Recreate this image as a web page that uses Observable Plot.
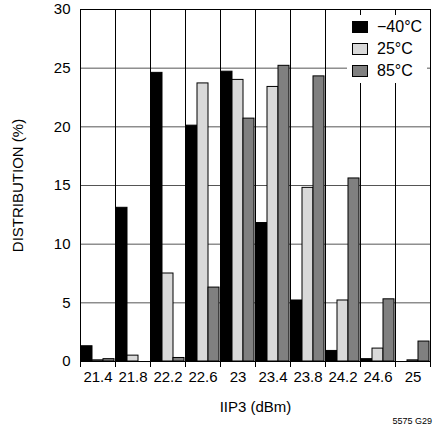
<!DOCTYPE html>
<html>
<head>
<meta charset="utf-8">
<script src="https://cdn.jsdelivr.net/npm/d3@7"></script>
<script src="https://cdn.jsdelivr.net/npm/@observablehq/plot@0.6"></script>
<style>
  html, body { margin: 0; padding: 0; background: white; }
  #wrap { position: relative; width: 443px; height: 438px; font-family: "Liberation Sans Narrow", "Arial Narrow", "Liberation Sans", sans-serif; }
  #legend { position: absolute; left: 347px; top: 15px; width: 80px; height: 68px; background: white; }
  .row { position: absolute; left: 0; height: 22px; display: flex; align-items: center; font-size: 16px; color: #000; }
  .sw { width: 14px; height: 10px; border: 1px solid #000; margin-left: 5px; margin-right: 9px; }
  #caption { position: absolute; right: 11px; top: 416px; font-size: 9px; font-family: "Liberation Sans Narrow", "Liberation Sans", sans-serif; color: #000; }
</style>
</head>
<body>
<div id="wrap"></div>
<script>
const categories = ["21.4", "21.8", "22.2", "22.6", "23", "23.4", "23.8", "24.2", "24.6", "25"];
const series = ["\u221240\u00b0C", "25\u00b0C", "85\u00b0C"];
const colors = ["#000000", "#d9d9d9", "#808080"];
const valuesM40 = [1.3, 13.1, 24.6, 20.1, 24.7, 11.8, 5.2, 0.9, 0.2, 0];
const values25  = [0.1, 0.5, 7.5, 23.7, 24.0, 23.4, 14.8, 5.2, 1.1, 0.1];
const values85  = [0.2, 0, 0.3, 6.3, 20.7, 25.2, 24.3, 15.6, 5.3, 1.7];
const yTicks = [0, 5, 10, 15, 20, 25, 30];

const seriesValues = [valuesM40, values25, values85];
const data = [];
categories.forEach((c, i) => {
  series.forEach((s, j) => data.push({cat: c, series: s, value: seriesValues[j][i]}));
});

const chart = Plot.plot({
  width: 443,
  height: 438,
  marginLeft: 79,
  marginRight: 12,
  marginTop: 9,
  marginBottom: 77,
  style: {fontFamily: "'Liberation Sans Narrow', 'Arial Narrow', 'Liberation Sans', sans-serif", fontSize: "15px", background: "white", color: "black"},
  fx: {domain: categories, padding: 0, label: "IIP3 (dBm)"},
  x: {domain: series, padding: 0, axis: null},
  y: {domain: [0, 30], label: "DISTRIBUTION (%)"},
  color: {domain: series, range: colors},
  marks: [
    Plot.gridY(yTicks.slice(1, -1), {stroke: "#555", strokeOpacity: 1}),
    Plot.barY(data, {fx: "cat", x: "series", y: "value", fill: "series", stroke: "black", strokeWidth: 1}),
    Plot.frame({anchor: "left", insetBottom: -5, stroke: "black"}),
    Plot.frame({anchor: "right", insetBottom: -5, stroke: "black"}),
    Plot.frame({anchor: "top", stroke: "black"}),
    Plot.frame({anchor: "bottom", stroke: "black"}),
    Plot.axisY(yTicks, {tickSize: 0, tickPadding: 10, fontSize: 15, label: "DISTRIBUTION (%)", labelAnchor: "center", labelArrow: "none", labelOffset: 68}),
    Plot.axisFx({anchor: "bottom", tickSize: 0, tickPadding: 10, fontSize: 15, label: "IIP3 (dBm)", labelAnchor: "center", labelArrow: "none", labelOffset: 50})
  ]
});

const wrap = document.getElementById("wrap");
wrap.appendChild(chart);

const legend = document.createElement("div");
legend.id = "legend";
series.forEach((s, j) => {
  const row = document.createElement("div");
  row.className = "row";
  row.style.top = (j * 22 + 1) + "px";
  const sw = document.createElement("div");
  sw.className = "sw";
  sw.style.background = colors[j];
  const t = document.createElement("span");
  t.textContent = s;
  row.appendChild(sw);
  row.appendChild(t);
  legend.appendChild(row);
});
wrap.appendChild(legend);

const cap = document.createElement("div");
cap.id = "caption";
cap.textContent = "5575 G29";
wrap.appendChild(cap);
</script>
</body>
</html>
